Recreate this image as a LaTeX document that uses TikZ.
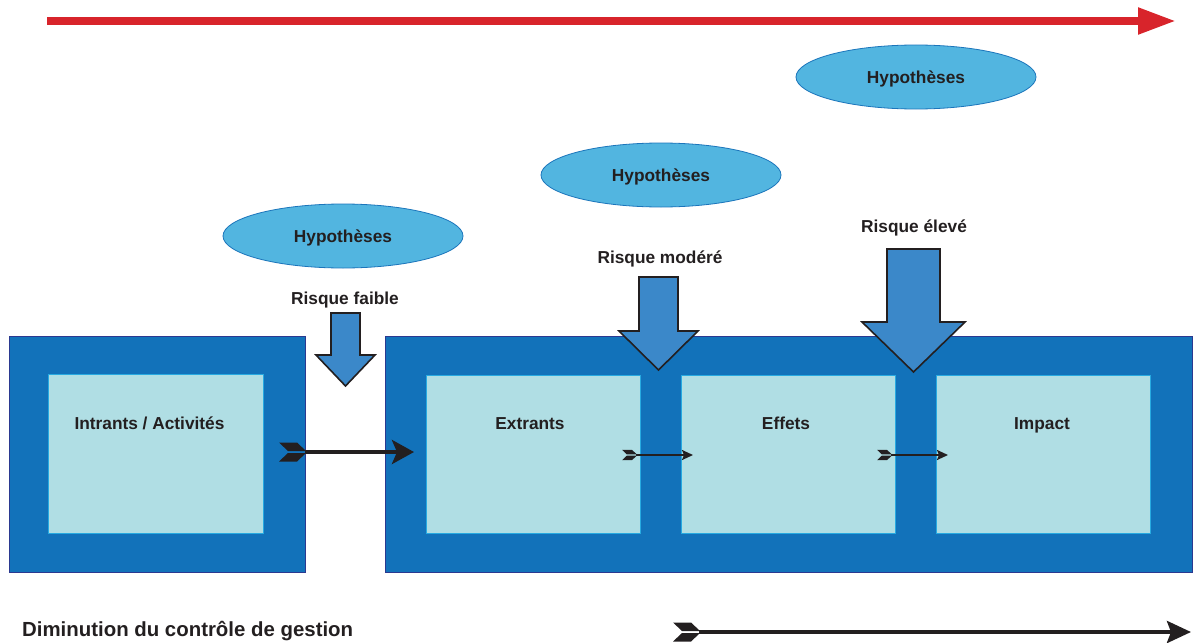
\documentclass[tikz,border=0pt]{standalone}
\usepackage{fontspec}
\setmainfont{Liberation Sans}
\usetikzlibrary{shapes.geometric,arrows.meta}
\definecolor{outerblue}{HTML}{1272BA}
\definecolor{outerline}{HTML}{2B3990}
\definecolor{innerfill}{HTML}{B0DEE4}
\definecolor{innerline}{HTML}{27AAE1}
\definecolor{ellfill}{HTML}{52B5E0}
\definecolor{ellline}{HTML}{1B75BB}
\definecolor{arrfill}{HTML}{3B88C9}
\definecolor{redarr}{HTML}{D8242B}
\definecolor{txt}{HTML}{231F20}
\tikzset{
  fletch/.pic={
    \fill[txt] (0,-9.5) -- (18,-9.5) -- (27,-1) -- (9,-1) -- cycle;
    \fill[txt] (9,1) -- (27,1) -- (18,9.5) -- (0,9.5) -- cycle;
  }
}
\begin{document}
\begin{tikzpicture}[x=1pt,y=-1pt,
  outer/.style={fill=outerblue,draw=outerline,line width=1.2pt,inner sep=0pt,anchor=north west},
  inner/.style={fill=innerfill,draw=innerline,line width=1.2pt,inner sep=0pt,anchor=north west,minimum width=214pt,minimum height=158pt},
  hyp/.style={ellipse,fill=ellfill,draw=ellline,line width=0.8pt,minimum width=240pt,minimum height=64pt,inner sep=0pt,font=\bfseries\fontsize{17.3}{20}\selectfont,text=txt,text height=12.4pt,text depth=0pt},
  lab/.style={font=\bfseries\fontsize{17.3}{20}\selectfont,text=txt,inner sep=0pt,text height=12.4pt,text depth=0pt},
  blockarr/.style={fill=arrfill,draw=txt,line width=1.6pt,line join=miter},
  bigcon/.style={txt,line width=4pt,-{Stealth[length=22pt,width=24pt,inset=5pt]}},
  smallcon/.style={txt,line width=2pt,-{Stealth[length=11pt,width=10pt,inset=2pt]}},
]
\useasboundingbox (0,0) rectangle (1193,642);

% red arrow
\coordinate (rs) at (47,21);
\coordinate (re) at (1176,21);
\draw[redarr,line width=8pt,-{Triangle[length=38pt,width=25pt]}] (rs) -- (re);

% hypotheses
\node[hyp] (h1) at (343,236) {Hypothèses};
\node[hyp] (h2) at (661,175) {Hypothèses};
\node[hyp] (h3) at (916,77) {Hypothèses};

% boxes
\node[outer,minimum width=296pt,minimum height=236pt] (outL) at (9,336) {};
\node[outer,minimum width=807pt,minimum height=236pt] (outR) at (385,336) {};
\node[inner,minimum width=215pt,minimum height=159pt] (bIn) at (48,374) {};
\node[inner] (bEx) at (426,375) {};
\node[inner] (bEf) at (681,375) {};
\node[inner] (bIm) at (936,375) {};
\node[lab] (tIn) at (149.5,423) {Intrants / Activités};
\node[lab] (tEx) at (530,423) {Extrants};
\node[lab] (tEf) at (786,423) {Effets};
\node[lab] (tIm) at (1042,423) {Impact};

% risk labels
\node[lab] (rf) at (345,298) {Risque faible};
\node[lab] (rm) at (660,257) {Risque modéré};
\node[lab] (re2) at (914,226) {Risque élevé};

% block arrows
\draw[blockarr] (331,313) -- (360,313) -- (360,355) -- (375,355) -- (345.5,386) -- (316,355) -- (331,355) -- cycle;
\draw[blockarr] (639,277) -- (678,277) -- (678,331) -- (698,331) -- (658.5,370) -- (619,331) -- (639,331) -- cycle;
\draw[blockarr] (887,249) -- (940,249) -- (940,322) -- (965,322) -- (913.5,372) -- (862,322) -- (887,322) -- cycle;

% connectors
\pic at (279,452) {fletch};
\coordinate (c1s) at (305,452);
\coordinate (c1e) at (414,452);
\draw[bigcon] (c1s) -- (c1e);

\pic[scale=0.55] at (622,455) {fletch};
\coordinate (c2s) at (636,455);
\coordinate (c2e) at (693,455);
\draw[smallcon] (c2s) -- (c2e);

\pic[scale=0.55] at (877,455) {fletch};
\coordinate (c3s) at (891,455);
\coordinate (c3e) at (948,455);
\draw[smallcon] (c3s) -- (c3e);

% bottom
\node[lab,anchor=west,font=\bfseries\fontsize{20.4}{24}\selectfont,text height=14.6pt] (dim) at (22,629.5) {Diminution du contrôle de gestion};
\pic at (673,632) {fletch};
\coordinate (bs) at (699,632);
\coordinate (be) at (1191,632);
\draw[bigcon,-{Stealth[length=24pt,width=22pt,inset=4pt]}] (bs) -- (be);
\end{tikzpicture}
\end{document}
